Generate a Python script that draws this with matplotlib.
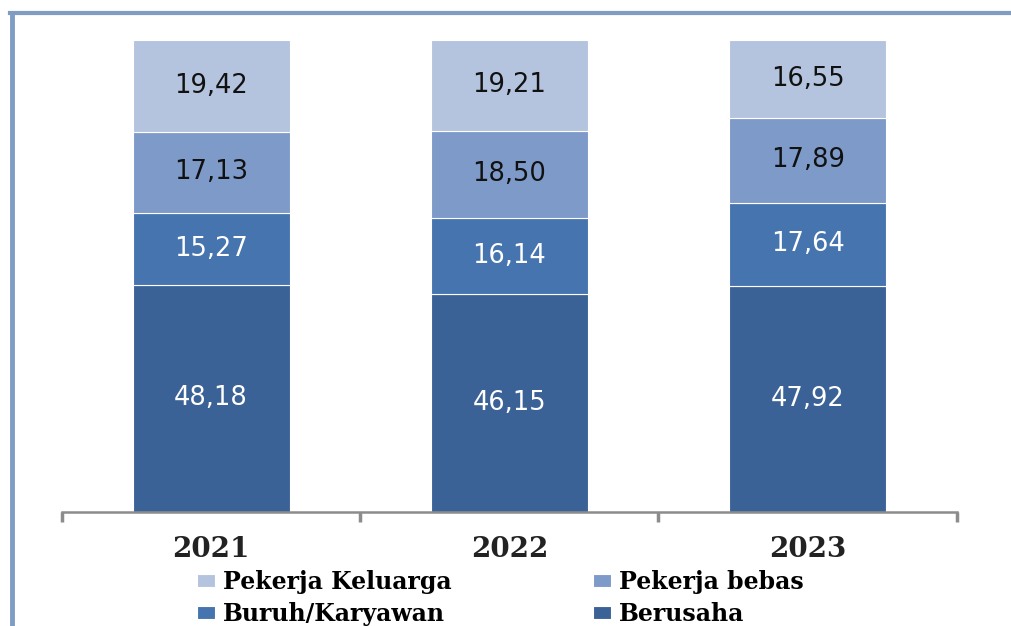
import numpy as np
import matplotlib
matplotlib.use("Agg")
import matplotlib.pyplot as plt
from matplotlib.lines import Line2D

# data (percent shares per year)
years = ["2021", "2022", "2023"]
berusaha = [48.18, 46.15, 47.92]
buruh = [15.27, 16.14, 17.64]
pekerja_bebas = [17.13, 18.50, 17.89]
pekerja_keluarga = [19.42, 19.21, 16.55]

series = [
    ("Berusaha", berusaha, "#3b6296", "white"),
    ("Buruh/Karyawan", buruh, "#4674ae", "white"),
    ("Pekerja bebas", pekerja_bebas, "#7d9ac8", "#111111"),
    ("Pekerja Keluarga", pekerja_keluarga, "#b4c3de", "#111111"),
]

fig = plt.figure(figsize=(10.11, 6.26), dpi=100)
ax = fig.add_axes([0.0613, 0.182, 0.885, 0.754])

x = np.arange(len(years))
bottom = np.zeros(len(years))
handles = {}
for name, vals, col, tcol in series:
    vals = np.array(vals)
    b = ax.bar(x, vals, 0.527, bottom=bottom, color=col, edgecolor="white",
               linewidth=0.8, label=name)
    handles[name] = b
    for xi, v, b0 in zip(x, vals, bottom):
        ax.text(xi, b0 + v / 2, f"{v:.2f}".replace(".", ","), ha="center",
                va="center", fontsize=18.5, color=tcol, family="DejaVu Sans")
    bottom += vals

ax.set_xlim(-0.5, 2.5)
ax.set_ylim(0, 100)
for s in ["top", "right", "left"]:
    ax.spines[s].set_visible(False)
ax.spines["bottom"].set_color("#8c8c8c")
ax.spines["bottom"].set_linewidth(1.8)
ax.set_yticks([])
ax.set_xticks(x)
ax.set_xticklabels(years, fontsize=20, fontweight="bold", family="DejaVu Serif",
                   color="#222222")
ax.tick_params(axis="x", which="major", length=0, pad=17)
ax.set_xticks([-0.5, 0.5, 1.5, 2.5], minor=True)
ax.tick_params(axis="x", which="minor", length=7, width=2.5, color="#8c8c8c",
               direction="out")

order = ["Pekerja Keluarga", "Buruh/Karyawan", "Pekerja bebas", "Berusaha"]
fig.legend([handles[n] for n in order], order, loc="upper left",
           bbox_to_anchor=(0.195, 0.09), ncol=2, frameon=False,
           prop={"family": "DejaVu Serif", "weight": "bold", "size": 17},
           handlelength=0.75, handleheight=0.5, handletextpad=0.34,
           columnspacing=6.0, labelspacing=0.35, borderpad=0, borderaxespad=0)

# frame lines of the original picture
fig.add_artist(Line2D([10 / 1011, 1], [1 - 13 / 626] * 2, transform=fig.transFigure,
                      color="#7f9cc2", linewidth=3))
fig.add_artist(Line2D([12 / 1011] * 2, [0, 1 - 13 / 626], transform=fig.transFigure,
                      color="#7f9cc2", linewidth=3.5))

fig.savefig("out.png", dpi=100)
